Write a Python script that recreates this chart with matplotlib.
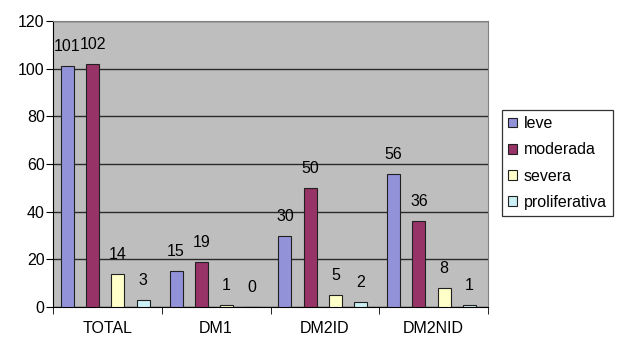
import matplotlib
matplotlib.use("Agg")
import matplotlib.pyplot as plt
import numpy as np
from matplotlib.ticker import FixedLocator

plt.rcParams['font.family'] = ['Liberation Sans', 'DejaVu Sans']

categories = ["TOTAL", "DM1", "DM2ID", "DM2NID"]
series_names = ["leve", "moderada", "severa", "proliferativa"]
leve = [101, 15, 30, 56]
moderada = [102, 19, 50, 36]
severa = [14, 1, 5, 8]
proliferativa = [3, 0, 2, 1]
series = [leve, moderada, severa, proliferativa]
colors = ["#9292D8", "#973367", "#FFFFCA", "#CCEEF5"]
yticks = [0, 20, 40, 60, 80, 100, 120]

FS = 11.5

fig = plt.figure(figsize=(6.19, 3.39), dpi=100)
ax = fig.add_axes([53/619, 1 - 307/339, (488-53)/619, (307-21)/339])
ax.set_facecolor("#BEBEBE")

x = np.arange(len(categories))
step = 0.232
width = 0.12
offsets = (np.arange(4) - 1.5) * step - 0.02
for i, (name, vals, c) in enumerate(zip(series_names, series, colors)):
    ax.bar(x + offsets[i], vals, width, color=c, edgecolor="#202020",
           linewidth=0.8, label=name, zorder=3)
    for xi, v in zip(x + offsets[i], vals):
        ax.annotate(str(v), (xi, v), xytext=(0, 14), textcoords="offset points",
                    ha="center", va="center", fontsize=FS, zorder=4)

ax.set_xlim(-0.5, 3.5)
ax.set_ylim(0, 120)
ax.set_yticks(yticks)
ax.yaxis.grid(True, color="#2a2a2a", linewidth=1.0, zorder=1)
ax.set_axisbelow(True)
ax.set_xticks(x)
ax.set_xticklabels(categories, fontsize=FS)
ax.xaxis.set_minor_locator(FixedLocator([-0.5, 0.5, 1.5, 2.5, 3.5]))
ax.tick_params(axis="x", which="major", length=0, pad=10)
ax.tick_params(axis="x", which="minor", length=5, direction="out", color="black")
ax.tick_params(axis="y", length=5, direction="out", labelsize=FS, pad=1)
ax.spines["top"].set_color("#808080")
ax.spines["right"].set_color("#808080")
ax.spines["left"].set_color("black")
ax.spines["bottom"].set_color("black")

leg = ax.legend(loc="center left", bbox_to_anchor=(502/619, 1 - 163/339),
                bbox_transform=fig.transFigure, frameon=True, fancybox=False,
                edgecolor="black", fontsize=FS, handlelength=0.55, handleheight=0.55,
                handletextpad=0.4, labelspacing=0.7, borderpad=0.4,
                borderaxespad=0)
leg.get_frame().set_linewidth(0.9)

fig.savefig("out.png", dpi=100, facecolor="white")
